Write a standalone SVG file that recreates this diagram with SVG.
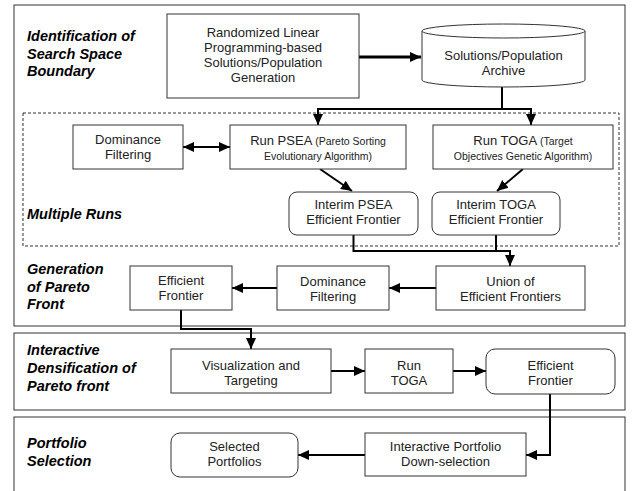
<svg xmlns="http://www.w3.org/2000/svg" width="638" height="491" viewBox="0 0 638 491">
<defs>
<marker id="ah" markerUnits="userSpaceOnUse" markerWidth="12" markerHeight="12" refX="11" refY="6" orient="auto-start-reverse" viewBox="0 0 12 12">
<path d="M0,1 L11,6 L0,11 z" fill="#000"/>
</marker>
<style>
.frame{fill:none;stroke:#333;stroke-width:1}
.dash{fill:none;stroke:#333;stroke-width:1;stroke-dasharray:3,2}
.box{fill:#fff;stroke:#333;stroke-width:1}
.t{font-family:"Liberation Sans",Arial,sans-serif;font-size:13px;fill:#222;text-anchor:middle}
.s{font-size:10.5px}
.lab{font-family:"Liberation Sans",Arial,sans-serif;font-size:14.5px;font-weight:bold;font-style:italic;fill:#000}
.c{fill:none;stroke:#000;stroke-width:2}
.ca{fill:none;stroke:#000;stroke-width:2;marker-end:url(#ah)}
</style>
</defs>
<rect width="638" height="491" fill="#fff"/>
<g id="frames">
<rect class="frame" x="14" y="5" width="611" height="321"/>
<rect class="dash" x="23" y="113" width="596" height="133"/>
<rect class="frame" x="14" y="333" width="611" height="77"/>
<rect class="frame" x="14" y="417" width="611" height="90"/>
</g>
<g id="labels">
<text class="lab" x="27" y="41">Identification of</text>
<text class="lab" x="27" y="58.5">Search Space</text>
<text class="lab" x="27" y="76">Boundary</text>
<text class="lab" x="27" y="219">Multiple Runs</text>
<text class="lab" x="27" y="274">Generation</text>
<text class="lab" x="27" y="291.5">of Pareto</text>
<text class="lab" x="27" y="309">Front</text>
<text class="lab" x="27" y="355">Interactive</text>
<text class="lab" x="27" y="373">Densification of</text>
<text class="lab" x="27" y="391">Pareto front</text>
<text class="lab" x="27" y="448">Portfolio</text>
<text class="lab" x="27" y="466">Selection</text>
</g>
<g id="connectors">
<path d="M359,57 H421" fill="none" stroke="#000" stroke-width="3" marker-end="url(#ah)"/>
<path class="ca" d="M502,87 V109 H318 V125"/>
<path class="ca" d="M502,109 H531 V125"/>
<path class="ca" d="M183,147 H230" marker-start="url(#ah)"/>
<path class="ca" d="M320,169 L352,191"/>
<path class="ca" d="M523,169 L497,191"/>
<path class="ca" d="M353.5,235 V251 H510 V266"/>
<path class="c" d="M496,235 V251"/>
<path class="ca" d="M436,288 H389"/>
<path class="ca" d="M277,288 H232"/>
<path class="ca" d="M181,310 V329 H251 V349"/>
<path class="ca" d="M331,371 H365"/>
<path class="ca" d="M453,371 H486"/>
<path class="ca" d="M550,394 V455 H526"/>
<path class="ca" d="M365,455 H298"/>
</g>
<g id="n-randomized">
<rect class="box" x="167" y="14" width="192" height="84"/>
<text class="t" x="263" y="37">Randomized Linear</text>
<text class="t" x="263" y="52">Programming-based</text>
<text class="t" x="263" y="67">Solutions/Population</text>
<text class="t" x="263" y="82">Generation</text>
</g>
<g id="n-archive">
<path class="box" d="M422,31 V80 A81.5,7 0 0 0 585,80 V31"/>
<ellipse class="box" cx="503.5" cy="31" rx="81.5" ry="7"/>
<text class="t" x="503.5" y="59.5">Solutions/Population</text>
<text class="t" x="503.5" y="74.5">Archive</text>
</g>
<g id="n-dominance1">
<rect class="box" x="73" y="125" width="110" height="44"/>
<text class="t" x="128" y="144">Dominance</text>
<text class="t" x="128" y="159">Filtering</text>
</g>
<g id="n-psea">
<rect class="box" x="230" y="125" width="176" height="44"/>
<text class="t" x="318" y="145">Run PSEA <tspan class="s">(Pareto Sorting</tspan></text>
<text class="t s" x="318" y="160">Evolutionary Algorithm)</text>
</g>
<g id="n-toga">
<rect class="box" x="433" y="125" width="180" height="44"/>
<text class="t" x="523" y="145">Run TOGA <tspan class="s">(Target</tspan></text>
<text class="t s" x="523" y="160">Objectives Genetic Algorithm)</text>
</g>
<g id="n-interim-psea">
<rect class="box" x="289" y="192" width="129" height="43" rx="8"/>
<text class="t" x="353.5" y="209">Interim PSEA</text>
<text class="t" x="353.5" y="224">Efficient Frontier</text>
</g>
<g id="n-interim-toga">
<rect class="box" x="432" y="192" width="128" height="43" rx="8"/>
<text class="t" x="496" y="209">Interim TOGA</text>
<text class="t" x="496" y="224">Efficient Frontier</text>
</g>
<g id="n-union">
<rect class="box" x="436" y="266" width="149" height="44"/>
<text class="t" x="510.5" y="285.5">Union of</text>
<text class="t" x="510.5" y="300.5">Efficient Frontiers</text>
</g>
<g id="n-dominance2">
<rect class="box" x="277" y="266" width="112" height="44"/>
<text class="t" x="333" y="285.5">Dominance</text>
<text class="t" x="333" y="300.5">Filtering</text>
</g>
<g id="n-efficient1">
<rect class="box" x="130" y="266" width="102" height="44"/>
<text class="t" x="181" y="284.5">Efficient</text>
<text class="t" x="181" y="299.5">Frontier</text>
</g>
<g id="n-visualization">
<rect class="box" x="171" y="349" width="160" height="44"/>
<text class="t" x="251" y="369.5">Visualization and</text>
<text class="t" x="251" y="384.5">Targeting</text>
</g>
<g id="n-toga2">
<rect class="box" x="365" y="349" width="88" height="44"/>
<text class="t" x="409" y="369.5">Run</text>
<text class="t" x="409" y="384.5">TOGA</text>
</g>
<g id="n-efficient2">
<rect class="box" x="486" y="349" width="129" height="45" rx="9"/>
<text class="t" x="550.5" y="369.5">Efficient</text>
<text class="t" x="550.5" y="384.5">Frontier</text>
</g>
<g id="n-interactive">
<rect class="box" x="365" y="433" width="161" height="43"/>
<text class="t" x="445.5" y="451">Interactive Portfolio</text>
<text class="t" x="445.5" y="466">Down-selection</text>
</g>
<g id="n-selected">
<rect class="box" x="171" y="433" width="127" height="44" rx="9"/>
<text class="t" x="234.5" y="451">Selected</text>
<text class="t" x="234.5" y="466">Portfolios</text>
</g>
</svg>
